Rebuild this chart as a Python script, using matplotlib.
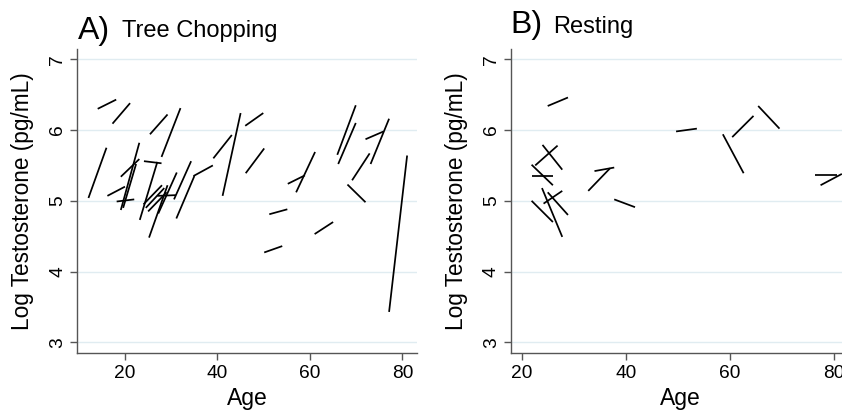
import matplotlib
matplotlib.use("Agg")
import matplotlib.pyplot as plt
import numpy as np

plt.rcParams['font.family'] = ['Liberation Sans', 'DejaVu Sans']

# Panel A: Tree Chopping  (age at sample 1, age at sample 2, log T pre, log T post)
a_x1 = [14.1, 17.3, 12.1, 16.2, 18.2, 19.1, 19.1, 19.6, 24.1, 23.2, 25.2, 25.4, 27.9,
        24.0, 24.5, 25.0, 27.0, 27.2, 31.1, 30.6, 34.8, 39.1, 41.1, 46.0, 46.1, 55.2,
        57.0, 51.2, 50.1, 61.0, 65.9, 66.1, 72.0, 73.1, 69.1, 68.1, 77.1]
a_x2 = [18.1, 21.1, 16.0, 20.0, 22.0, 23.1, 23.1, 22.4, 27.9, 27.0, 29.2, 29.2, 32.0,
        28.0, 28.5, 29.0, 31.0, 31.2, 35.0, 34.3, 39.0, 43.1, 45.0, 49.9, 50.1, 58.9,
        61.1, 55.1, 54.0, 65.0, 69.9, 69.9, 75.9, 77.1, 72.9, 72.0, 81.0]
a_y1 = [6.30, 6.09, 5.04, 5.07, 4.99, 4.87, 5.34, 4.90, 5.56, 4.73, 4.48, 5.94, 5.62,
        4.95, 4.90, 4.85, 5.07, 4.82, 4.75, 5.02, 5.35, 5.60, 5.07, 6.06, 5.39, 5.24,
        5.12, 4.81, 4.27, 4.53, 5.65, 5.52, 5.87, 5.52, 5.29, 5.23, 3.43]
a_y2 = [6.43, 6.38, 5.75, 5.20, 5.02, 5.82, 5.59, 5.52, 5.53, 5.55, 5.22, 6.22, 6.31,
        5.22, 5.18, 5.12, 5.08, 5.40, 5.35, 5.56, 5.50, 5.93, 6.24, 6.24, 5.74, 5.36,
        5.69, 4.88, 4.36, 4.70, 6.35, 6.10, 5.98, 6.16, 5.67, 4.98, 5.64]

# Panel B: Resting
b_x1 = [25.0, 22.6, 24.0, 21.9, 21.9, 24.2, 21.9, 23.9, 25.0, 32.8, 34.0, 37.8,
        49.7, 58.7, 60.5, 65.5, 76.5, 77.5]
b_x2 = [28.9, 26.9, 27.8, 26.1, 26.0, 27.8, 26.0, 27.8, 28.9, 37.0, 37.8, 41.8,
        53.7, 62.7, 64.6, 69.6, 80.7, 81.6]
b_y1 = [6.34, 5.50, 5.79, 5.35, 5.51, 4.96, 5.00, 5.18, 5.12, 5.14, 5.42, 5.02,
        5.98, 5.94, 5.90, 6.34, 5.37, 5.22]
b_y2 = [6.46, 5.78, 5.44, 5.35, 5.22, 5.14, 4.70, 4.49, 4.80, 5.46, 5.47, 4.91,
        6.02, 5.39, 6.20, 6.02, 5.37, 5.38]

yticks = [3, 4, 5, 6, 7]
xticks = [20, 40, 60, 80]

W, H = 842, 411
fig = plt.figure(figsize=(W / 100, H / 100), dpi=100)

def px_axes(left, top, right, bottom):
    return [left / W, 1 - bottom / H, (right - left) / W, (bottom - top) / H]

def style(ax, xlim):
    ax.set_xlim(*xlim)
    ax.set_ylim(2.845, 7.141)
    ax.set_yticks(yticks)
    ax.set_xticks(xticks)
    ax.grid(axis='y', color='#e0ecf1', linewidth=1.0)
    ax.set_axisbelow(True)
    for s in ['top', 'right']:
        ax.spines[s].set_visible(False)
    for s in ['left', 'bottom']:
        ax.spines[s].set_color('#555555')
        ax.spines[s].set_linewidth(1.0)
    ax.tick_params(axis='both', colors='#555555', length=4.8, width=1.0,
                   labelsize=13.8, labelcolor='black', pad=3.5)
    ax.tick_params(axis='y', labelrotation=90, pad=3.0)
    for lab in ax.get_yticklabels():
        lab.set_va('center')
    ax.set_xlabel('Age', fontsize=16.5)
    ax.xaxis.set_label_coords(0.5, -0.112)
    ax.set_ylabel('Log Testosterone (pg/mL)', fontsize=16.3, va='bottom')
    ax.yaxis.set_label_coords(-0.126, 0.5)

axA = fig.add_axes(px_axes(77.3, 49.3, 417.3, 353.3))
for x1, x2, y1, y2 in zip(a_x1, a_x2, a_y1, a_y2):
    axA.plot([x1, x2], [y1, y2], color='black', linewidth=1.25, solid_capstyle='butt')
style(axA, (9.69, 83.2))

axB = fig.add_axes(px_axes(510.7, 49.3, 850.7, 353.3))
for x1, x2, y1, y2 in zip(b_x1, b_x2, b_y1, b_y2):
    axB.plot([x1, x2], [y1, y2], color='black', linewidth=1.25, solid_capstyle='butt')
style(axB, (17.88, 83.3))

fig.text(78 / W, 1 - 38.5 / H, 'A)', fontsize=23, va='baseline', ha='left')
fig.text(121.7 / W, 1 - 37.5 / H, 'Tree Chopping', fontsize=17, va='baseline', ha='left')
fig.text(510.7 / W, 1 - 33.5 / H, 'B)', fontsize=23, va='baseline', ha='left')
fig.text(553.3 / W, 1 - 33.5 / H, 'Resting', fontsize=17, va='baseline', ha='left')

fig.savefig('out.png', dpi=100, facecolor='white')
